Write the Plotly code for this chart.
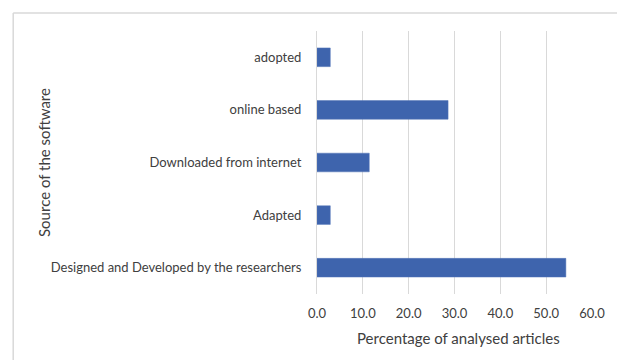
import plotly.graph_objects as go

# Source of the software, listed top to bottom
categories = [
    "adopted",
    "online based",
    "Downloaded from internet",
    "Adapted",
    "Designed and Developed by the researchers",
]
percentages = [2.9, 28.6, 11.4, 2.9, 54.3]
x_ticks = [0, 10, 20, 30, 40, 50, 60]
x_tick_labels = ["0.0", "10.0", "20.0", "30.0", "40.0", "50.0", "60.0"]

W, H = 617, 360
ML, MR, MT, MB = 317, 23, 31, 66
PW, PH = W - ML - MR, H - MT - MB

FONT = "Lato"
TEXT = "#404040"
GRID = "#d9d9d9"


def px_x(px):
    return (px - ML) / PW


def px_y(py):
    return 1 - (py - MT) / PH


fig = go.Figure(
    go.Bar(
        x=percentages,
        y=categories,
        orientation="h",
        marker=dict(color="#3e64ad", line=dict(color="#5577b8", width=0.5)),
        hoverinfo="x+y",
    )
)

fig.update_layout(
    width=W,
    height=H,
    margin=dict(l=ML, r=MR, t=MT, b=MB),
    paper_bgcolor="white",
    plot_bgcolor="white",
    bargap=0.645,
    showlegend=False,
    font=dict(family=FONT, size=13, color=TEXT),
    xaxis=dict(
        range=[0, 60],
        tickvals=x_ticks,
        ticktext=x_tick_labels,
        showgrid=True,
        gridcolor=GRID,
        gridwidth=1,
        zeroline=False,
        showline=False,
        ticks="",
        ticklabelstandoff=10,
        tickfont=dict(family=FONT, size=13, color=TEXT),
        fixedrange=True,
    ),
    yaxis=dict(
        autorange="reversed",
        showgrid=False,
        showline=True,
        linecolor=GRID,
        linewidth=1,
        ticks="",
        ticklabelstandoff=12,
        tickfont=dict(family=FONT, size=13, color=TEXT),
        fixedrange=True,
    ),
    annotations=[
        dict(
            text="Percentage of analysed articles",
            xref="paper", yref="paper",
            x=px_x(460), y=px_y(338),
            xanchor="center", yanchor="middle",
            showarrow=False,
            font=dict(family=FONT, size=15, color=TEXT),
        ),
        dict(
            text="Source of the software",
            xref="paper", yref="paper",
            x=px_x(42), y=px_y(162),
            xanchor="center", yanchor="middle",
            textangle=-90,
            showarrow=False,
            font=dict(family=FONT, size=15, color=TEXT),
        ),
    ],
    shapes=[
        dict(type="line", xref="paper", yref="paper",
             x0=px_x(11), y0=px_y(13), x1=px_x(W + 5), y1=px_y(13),
             line=dict(color=GRID, width=1.5)),
        dict(type="line", xref="paper", yref="paper",
             x0=px_x(11), y0=px_y(13), x1=px_x(11), y1=px_y(H + 5),
             line=dict(color=GRID, width=1.5)),
    ],
)

fig.write_html("out.html")
